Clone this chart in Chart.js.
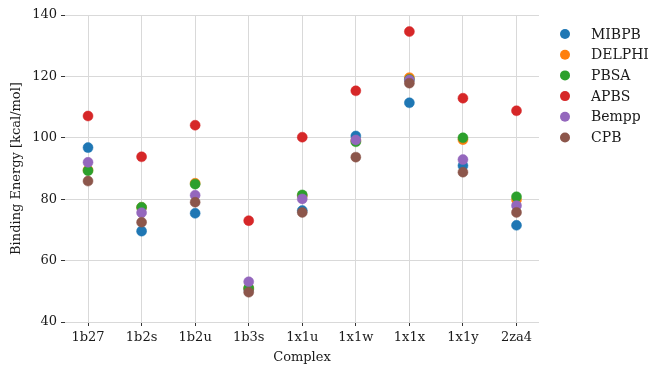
<!DOCTYPE html>
<html>
<head>
<meta charset="utf-8">
<script src="https://cdn.jsdelivr.net/npm/chart.js@4"></script>
<style>
  html, body { margin: 0; padding: 0; background: #fff; }
  #wrap { width: 665px; height: 375px; }
</style>
</head>
<body>
<div id="wrap"><canvas id="scatterChart" width="665" height="375"></canvas></div>
<script>

// DATA #######################################################################

var complexes = ["1b27", "1b2s", "1b2u", "1b3s", "1x1u", "1x1w", "1x1x", "1x1y", "2za4"];

var mibpb  = [96.8, 69.6, 75.4, 50.6, 76.3, 100.6, 111.4, 90.9, 71.5];
var delphi = [89.5, 77.3, 85.2, 51.0, 81.1, 99.0, 119.6, 99.4, 79.8];
var pbsa   = [89.3, 77.4, 84.9, 51.1, 81.4, 98.7, 119.0, 100.0, 80.8];
var apbs   = [107.1, 93.8, 104.1, 73.0, 100.2, 115.3, 134.6, 112.9, 108.8];
var bempp  = [92.0, 75.6, 81.3, 53.1, 80.1, 99.3, 118.8, 92.9, 77.9];
var cpb    = [85.9, 72.5, 79.0, 49.7, 75.7, 93.7, 117.8, 88.8, 75.7];

var yTicks = [40, 60, 80, 100, 120, 140];

var methods = ["MIBPB", "DELPHI", "PBSA", "APBS", "Bempp", "CPB"];
var colors = ["#1f77b4", "#ff7f0e", "#2ca02c", "#d62728", "#9467bd", "#8c564b"];
var series = [mibpb, delphi, pbsa, apbs, bempp, cpb];

var FONT = "'DejaVu Serif', serif";

// SCATTER CHART ##############################################################

function toPoints(values) {
    return values.map(function (v, i) {
        return {x: i, y: v};
    });
}

var datasets = methods.map(function (name, k) {
    return {
        label: name,
        data: toPoints(series[k]),
        backgroundColor: colors[k],
        borderColor: colors[k],
        pointRadius: 5,
        pointBorderWidth: 0.5,
        pointHoverRadius: 5,
        // later methods sit on top, as in the original plot
        order: methods.length - k
    };
});

// legend drawn by hand on the right side, like matplotlib's outside legend
var sideLegend = {
    id: "sideLegend",
    afterDraw: function (chart) {
        var ctx = chart.ctx;
        ctx.save();
        ctx.font = "14px " + FONT;
        ctx.textBaseline = "middle";
        ctx.textAlign = "left";
        chart.data.datasets.forEach(function (ds, i) {
            var y = 34 + i * 20.7;
            ctx.beginPath();
            ctx.arc(565, y, 5, 0, Math.PI * 2);
            ctx.fillStyle = ds.backgroundColor;
            ctx.fill();
            ctx.fillStyle = "#1a1a1a";
            ctx.fillText(ds.label, 591, y + 1);
        });
        ctx.restore();
    }
};

var ctx_scatter = document.getElementById("scatterChart");

var myScatterChart = new Chart(ctx_scatter, {
    type: "scatter",
    data: {datasets: datasets},
    plugins: [sideLegend],
    options: {
        responsive: false,
        animation: false,
        layout: {padding: {left: 0, right: 126, top: 15, bottom: 0}},
        plugins: {
            legend: {display: false},
            tooltip: {enabled: false}
        },
        scales: {
            x: {
                type: "linear",
                min: -0.43,
                max: 8.42,
                afterBuildTicks: function (scale) {
                    scale.ticks = complexes.map(function (c, i) {
                        return {value: i};
                    });
                },
                afterFit: function (scale) {
                    scale.height = 53;
                },
                grid: {
                    color: "#d9d9d9",
                    lineWidth: 1,
                    tickLength: 4,
                    tickColor: "#333",
                    tickWidth: 1
                },
                border: {display: false},
                ticks: {
                    color: "#1a1a1a",
                    padding: 4,
                    maxRotation: 0,
                    font: {family: FONT, size: 13},
                    callback: function (value) {
                        return complexes[value];
                    }
                },
                title: {
                    display: true,
                    text: "Complex",
                    color: "#1a1a1a",
                    font: {family: FONT, size: 13},
                    padding: {top: 0, bottom: 10}
                }
            },
            y: {
                min: 40,
                max: 140,
                afterBuildTicks: function (scale) {
                    scale.ticks = yTicks.map(function (v) {
                        return {value: v};
                    });
                },
                afterFit: function (scale) {
                    scale.width = 65;
                },
                grid: {
                    color: "#d9d9d9",
                    lineWidth: 1,
                    tickLength: 4,
                    tickColor: "#333",
                    tickWidth: 1
                },
                border: {display: false},
                ticks: {
                    color: "#1a1a1a",
                    padding: 4,
                    font: {family: FONT, size: 13}
                },
                title: {
                    display: true,
                    text: "Binding Energy [kcal/mol]",
                    color: "#1a1a1a",
                    font: {family: FONT, size: 13},
                    padding: {top: 9, bottom: 0}
                }
            }
        }
    }
});

</script>
</body>
</html>
